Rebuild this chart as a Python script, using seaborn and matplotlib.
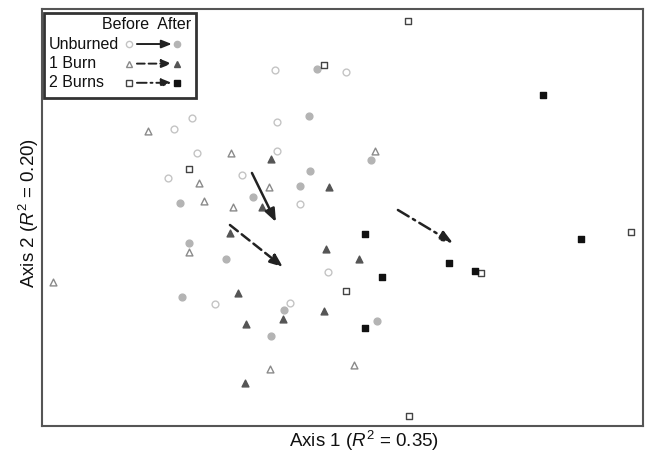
import pandas as pd
import seaborn as sns
import matplotlib.pyplot as plt

# ordination scores
unb_before_x = [-0.65, 0.06, -1.48, -1.66, -0.63, -1.43, -0.63, -1.72, -0.98, -0.40, -0.12, -1.25, -0.50]
unb_before_y = [1.50, 1.48, 1.02, 0.91, 0.98, 0.67, 0.69, 0.42, 0.45, 0.16, -0.52, -0.84, -0.83]
unb_after_x = [-0.23, -0.31, 0.31, -0.30, -0.40, -0.87, -1.60, -1.51, -1.14, -1.58, -0.56, -0.69, 0.37]
unb_after_y = [1.51, 1.04, 0.60, 0.49, 0.34, 0.23, 0.17, -0.23, -0.39, -0.77, -0.90, -1.16, -1.01]

b1_before_x = [-1.92, -1.09, 0.35, -1.41, -0.71, -1.36, -1.07, -1.51, -0.70, 0.14, -2.87]
b1_before_y = [0.89, 0.67, 0.69, 0.37, 0.33, 0.19, 0.13, -0.32, -1.49, -1.45, -0.62]
b1_after_x = [-0.69, -0.11, -0.78, -1.10, -0.14, 0.19, -1.02, -0.16, -0.94, -0.57, -0.95]
b1_after_y = [0.61, 0.33, 0.13, -0.13, -0.29, -0.39, -0.73, -0.91, -1.04, -0.99, -1.63]

b2_before_x = [0.68, -0.16, -1.51, 0.06, 1.41, 2.91, 0.69]
b2_before_y = [1.99, 1.55, 0.51, -0.71, -0.53, -0.12, -1.96]
b2_after_x = [2.03, 0.25, 1.09, 0.42, 1.35, 2.41, 0.25]
b2_after_y = [1.25, -0.14, -0.43, -0.57, -0.51, -0.19, -1.08]

# centroid shifts (start x, start y, end x, end y)
shift_unb = [-0.88, 0.47, -0.64, -0.02]
shift_b1 = [-1.10, -0.05, -0.57, -0.47]
shift_b2 = [0.58, 0.10, 1.13, -0.23]

groups = ['Unburned', '1 Burn', '2 Burns']

sns.set_style('white')
plt.rcParams['font.family'] = ['Liberation Sans', 'DejaVu Sans']
plt.rcParams['mathtext.fontset'] = 'custom'
plt.rcParams['mathtext.it'] = 'Liberation Sans:italic'
plt.rcParams['mathtext.rm'] = 'Liberation Sans'
plt.rcParams['text.color'] = '#111111'
plt.rcParams['axes.labelcolor'] = '#111111'

fig = plt.figure(figsize=(6.5, 4.54), dpi=100)
ax = fig.add_axes([0.0646, 0.0617, 0.9244, 0.9185])

styles = [
    (unb_before_x, unb_before_y, 'o', 'white', '#c4c4c4'),
    (unb_after_x, unb_after_y, 'o', '#b4b4b4', '#b4b4b4'),
    (b1_before_x, b1_before_y, '^', 'white', '#8a8a8a'),
    (b1_after_x, b1_after_y, '^', '#555555', '#555555'),
    (b2_before_x, b2_before_y, 's', 'white', '#444444'),
    (b2_after_x, b2_after_y, 's', '#111111', '#111111'),
]
for xs, ys, m, fc, ec in styles:
    df = pd.DataFrame({'x': xs, 'y': ys})
    sns.scatterplot(data=df, x='x', y='y', marker=m, s=24, color=fc,
                    edgecolor=ec, linewidth=1.0, ax=ax, zorder=3)

line_styles = ['-', (0, (4, 2)), (0, (5, 2, 1, 2))]
head = '-|>,head_width=0.22,head_length=0.55'
for sh, ls in zip([shift_unb, shift_b1, shift_b2], line_styles):
    ax.annotate('', xy=(sh[2], sh[3]), xytext=(sh[0], sh[1]),
                arrowprops=dict(arrowstyle=head, color='#222222', lw=1.8,
                                linestyle=ls, mutation_scale=14,
                                shrinkA=0, shrinkB=0))

ax.set_xlim(-2.98, 3.03)
ax.set_ylim(-2.06, 2.11)
ax.set_xticks([])
ax.set_yticks([])
ax.set_xlabel('Axis 1 ($R^2$ = 0.35)', fontsize=13.5)
ax.set_ylabel('Axis 2 ($R^2$ = 0.20)', fontsize=13.5)
ax.xaxis.set_label_coords(0.536, -0.036)
ax.yaxis.set_label_coords(-0.022, 0.51)
ax.xaxis.label.set_va('center')
ax.yaxis.label.set_va('center')
for sp in ax.spines.values():
    sp.set_color('#555555')
    sp.set_linewidth(1.5)

# hand-built legend box in the top-left corner
tr = ax.transAxes
ax.add_patch(plt.Rectangle((0.004, 0.787), 0.252, 0.203, transform=tr,
                           fill=True, facecolor='white', edgecolor='#333333',
                           linewidth=2, zorder=5))
ax.text(0.248, 0.962, 'Before  After', transform=tr, ha='right', va='center',
        fontsize=11.5, zorder=6)
rows_y = [0.916, 0.869, 0.823]
for i, g in enumerate(groups):
    _, _, m, fc, ec = styles[2 * i]
    _, _, m2, fc2, ec2 = styles[2 * i + 1]
    y = rows_y[i]
    ax.text(0.012, y, g, transform=tr, ha='left', va='center', fontsize=11.5, zorder=6)
    ax.plot(0.145, y, marker=m, ms=4.5, mfc=fc, mec=ec, mew=1.0,
            transform=tr, zorder=6, clip_on=False)
    ax.plot(0.225, y, marker=m2, ms=4.5, mfc=fc2, mec=ec2, mew=1.0,
            transform=tr, zorder=6, clip_on=False)
    ax.annotate('', xy=(0.216, y), xytext=(0.158, y), xycoords=tr,
                arrowprops=dict(arrowstyle=head, color='#222222', lw=1.4,
                                linestyle=line_styles[i], mutation_scale=11,
                                shrinkA=0, shrinkB=0), zorder=6)

plt.savefig('out.png', dpi=100)
